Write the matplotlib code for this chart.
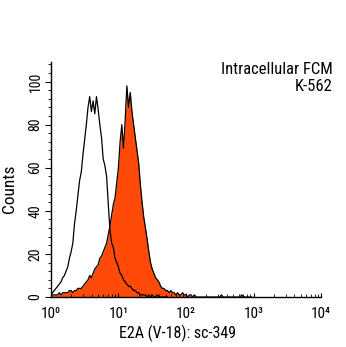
import numpy as np
import matplotlib
matplotlib.use("Agg")
import matplotlib.pyplot as plt
from matplotlib.ticker import MultipleLocator, FixedLocator

# histogram channels: one value per 1/40 decade starting at 10^0
step = 0.025
control_counts = [1, 2, 3, 4, 5, 6, 7, 9, 10, 12,
                  14, 18, 21, 25, 34, 40, 47, 54, 58, 66,
                  73, 80, 88, 93, 86, 91, 85, 93, 87, 80,
                  74, 64, 61, 56, 43, 31, 25, 23, 18, 16,
                  14, 11, 10, 8, 7, 6, 5, 5, 4, 3,
                  3, 2, 2, 1, 1, 1, 1, 0, 1, 0,
                  1, 0, 0, 1, 0, 0, 0, 0, 0, 0]
e2a_counts = [1, 1, 1, 1, 1, 2, 1, 2, 2, 2,
              2, 3, 3, 2, 3, 3, 4, 4, 4, 5,
              6, 7, 8, 10, 9, 11, 13, 14, 15, 18,
              19, 21, 23, 25, 29, 33, 38, 43, 46, 53,
              60, 72, 80, 69, 82, 98, 88, 95, 86, 80,
              74, 68, 62, 52, 44, 37, 32, 27, 21, 16,
              13, 11, 9, 8, 7, 5, 4, 4, 3, 3,
              2, 3, 2, 2, 1, 2, 1, 1, 2, 1,
              1, 0, 1, 1, 0, 1, 0, 0, 0, 0,
              0, 0, 0, 0, 0, 0, 0, 0, 0, 0,
              0, 1, 0, 0, 0, 0, 0, 0, 0, 0,
              0, 0, 0, 1, 0, 0, 0, 0, 0, 0]
decade_labels = ["10\u2070", "10\u00b9", "10\u00b2", "10\u00b3", "10\u2074"]

plt.rcParams['font.family'] = ['Roboto Condensed', 'Liberation Sans Narrow', 'Roboto', 'DejaVu Sans']

fig = plt.figure(figsize=(3.46, 3.47), dpi=100)
ax = fig.add_axes([0.147, 0.144, 0.781, 0.677])

x_e2a = 10 ** (np.arange(len(e2a_counts)) * step)
x_ctl = 10 ** (np.arange(len(control_counts)) * step)

ax.fill_between(x_e2a, e2a_counts, 0, color="#ff4a0a", lw=0)
ax.plot(x_e2a, e2a_counts, color="black", lw=0.9)
ax.plot(x_ctl, control_counts, color="black", lw=0.9)

ax.set_xscale("log")
ax.set_xlim(1, 1e4)
ax.set_ylim(0, 109)

ax.spines["top"].set_visible(False)
ax.spines["right"].set_visible(False)
ax.spines["left"].set_linewidth(1.0)
ax.spines["bottom"].set_linewidth(1.0)

ax.xaxis.set_major_locator(FixedLocator([1, 10, 100, 1000, 10000]))
ax.set_xticklabels(decade_labels, fontsize=11)
ax.tick_params(axis="x", which="major", direction="in", length=3, width=0.8, pad=7)
ax.tick_params(axis="x", which="minor", direction="in", length=2, width=0.6)

ax.yaxis.set_major_locator(MultipleLocator(20))
ax.yaxis.set_minor_locator(MultipleLocator(4))
ax.tick_params(axis="y", which="major", direction="out", length=4, width=0.8, pad=2)
ax.tick_params(axis="y", which="minor", direction="out", length=2, width=0.6)
for lab in ax.get_yticklabels():
    lab.set_rotation(90)
    lab.set_va("center")
    lab.set_fontsize(10)

ax.set_xlabel("E2A (V-18): sc-349", fontsize=11.5)
ax.xaxis.set_label_coords(0.468, -0.12)
ax.set_ylabel("Counts", fontsize=12.5)
ax.yaxis.set_label_coords(-0.125, 0.46)

fig.text(0.962, 0.80, "Intracellular FCM", ha="right", va="center", fontsize=12)
fig.text(0.962, 0.75, "K-562", ha="right", va="center", fontsize=12)

fig.savefig("out.png", dpi=100)
